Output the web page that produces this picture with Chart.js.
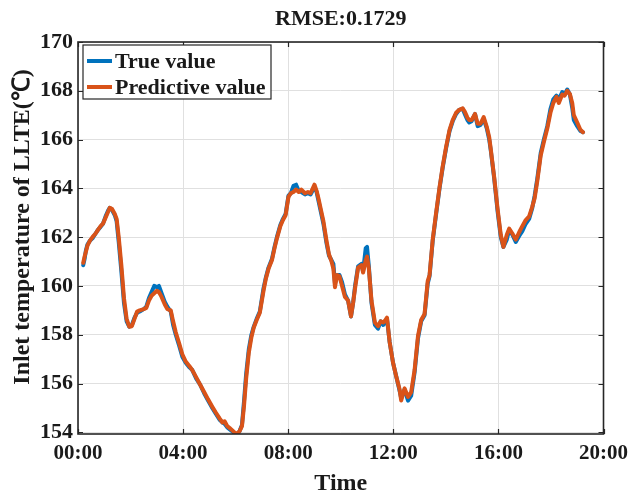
<!DOCTYPE html>
<html>
<head>
<meta charset="utf-8">
<script src="https://cdn.jsdelivr.net/npm/chart.js@4/dist/chart.umd.min.js"></script>
<style>
  html, body { margin: 0; padding: 0; background: #ffffff; }
  #wrap { width: 635px; height: 494px; }
</style>
</head>
<body>
<div id="wrap"><canvas id="c" width="635" height="494"></canvas></div>
<script>
// Time of day in hours
const hours = [
  0.20,0.25,0.30,0.36,0.45,0.55,0.67,0.76,0.86,0.95,
  1.05,1.15,1.21,1.30,1.40,1.47,1.55,1.65,1.75,1.85,
  1.95,2.05,2.15,2.25,2.35,2.50,2.60,2.70,2.80,2.90,
  3.00,3.08,3.18,3.30,3.40,3.53,3.62,3.72,3.85,3.97,
  4.10,4.25,4.35,4.50,4.65,4.80,4.95,5.11,5.25,5.40,
  5.50,5.58,5.68,5.80,5.95,6.05,6.15,6.24,6.32,6.40,
  6.50,6.60,6.69,6.80,6.92,7.06,7.15,7.25,7.38,7.48,
  7.57,7.70,7.80,7.90,8.01,8.10,8.20,8.30,8.40,8.50,
  8.64,8.75,8.85,9.00,9.08,9.15,9.25,9.34,9.45,9.55,
  9.65,9.72,9.78,9.86,9.95,10.05,10.16,10.28,10.39,10.47,
  10.55,10.66,10.79,10.85,10.95,11.00,11.07,11.17,11.30,11.42,
  11.52,11.62,11.70,11.76,11.86,11.99,12.11,12.24,12.30,12.43,
  12.56,12.68,12.81,12.94,13.06,13.19,13.31,13.38,13.50,13.63,
  13.76,13.88,14.01,14.14,14.26,14.39,14.51,14.64,14.72,14.82,
  14.89,14.98,15.11,15.21,15.32,15.44,15.56,15.65,15.71,15.84,
  15.97,16.09,16.19,16.32,16.41,16.53,16.66,16.79,16.91,17.04,
  17.17,17.29,17.38,17.48,17.61,17.73,17.86,17.98,18.09,18.21,
  18.30,18.43,18.52,18.62,18.72,18.81,18.87,19.00,19.12,19.22
];

// Measured inlet temperature (°C)
const trueValue = [
  160.85,161.10,161.45,161.70,161.85,161.95,162.15,162.30,162.42,162.55,
  162.85,163.10,163.20,163.10,162.90,162.65,161.80,160.60,159.30,158.55,
  158.33,158.40,158.70,158.90,158.95,159.05,159.15,159.50,159.75,160.00,
  159.95,160.00,159.70,159.35,159.15,158.95,158.40,158.00,157.55,157.10,
  156.85,156.65,156.55,156.20,155.95,155.60,155.30,155.00,154.75,154.50,
  154.40,154.35,154.20,154.10,153.98,153.90,154.05,154.30,155.30,156.40,
  157.40,158.00,158.33,158.65,158.95,159.90,160.35,160.75,161.10,161.60,
  162.00,162.50,162.75,162.95,163.70,163.80,164.10,164.15,163.90,163.85,
  163.75,163.80,163.75,164.05,163.85,163.50,163.00,162.55,161.80,161.25,
  161.05,160.90,160.10,160.45,160.45,160.15,159.65,159.40,158.75,159.30,
  160.05,160.80,160.90,160.60,161.55,161.60,160.80,159.30,158.40,158.25,
  158.55,158.40,158.55,158.65,157.70,156.85,156.30,155.70,155.40,155.75,
  155.30,155.50,156.45,157.85,158.55,158.80,160.10,160.40,161.85,162.95,
  164.00,164.85,165.65,166.35,166.75,167.05,167.22,167.26,167.05,166.80,
  166.70,166.75,167.05,166.55,166.60,166.85,166.45,166.00,165.55,164.40,
  163.05,162.00,161.60,161.90,162.30,162.10,161.80,162.05,162.25,162.55,
  162.75,163.20,163.70,164.40,165.45,166.00,166.55,167.25,167.65,167.80,
  167.65,167.95,167.85,168.05,167.85,167.30,166.80,166.55,166.35,166.30
];

// Model prediction (°C)
const predictiveValue = [
  160.95,161.20,161.40,161.65,161.85,162.00,162.15,162.30,162.45,162.55,
  162.80,163.05,163.20,163.15,162.95,162.75,162.00,160.85,159.50,158.65,
  158.33,158.35,158.65,158.95,159.00,159.05,159.10,159.40,159.60,159.70,
  159.80,159.75,159.55,159.25,159.05,159.00,158.55,158.10,157.65,157.20,
  156.90,156.70,156.55,156.25,155.95,155.65,155.35,155.05,154.80,154.55,
  154.40,154.45,154.25,154.15,154.00,153.92,154.05,154.25,155.10,156.20,
  157.25,157.90,158.30,158.60,158.90,159.80,160.30,160.70,161.05,161.55,
  161.95,162.45,162.70,162.90,163.65,163.80,163.85,163.95,163.85,163.95,
  163.80,163.85,163.80,164.15,163.90,163.60,163.10,162.65,161.90,161.30,
  161.00,160.70,159.95,160.45,160.40,160.00,159.55,159.40,158.75,159.30,
  159.95,160.75,160.85,160.55,161.05,161.20,160.70,159.40,158.50,158.35,
  158.55,158.50,158.60,158.70,157.70,156.85,156.30,155.75,155.30,155.80,
  155.45,155.65,156.55,157.95,158.60,158.85,160.20,160.45,161.90,163.00,
  164.05,164.90,165.70,166.40,166.80,167.10,167.22,167.28,167.15,166.90,
  166.80,166.80,167.05,166.65,166.65,166.92,166.51,166.10,165.60,164.46,
  163.15,162.10,161.60,162.10,162.35,162.15,161.90,162.20,162.45,162.70,
  162.85,163.25,163.60,164.30,165.35,165.90,166.45,167.10,167.50,167.75,
  167.50,167.85,167.80,168.00,167.87,167.50,167.00,166.70,166.40,166.30
];

const yTicks = [154, 156, 158, 160, 162, 164, 166, 168, 170];
const xTicks = [0, 4, 8, 12, 16, 20];
const xTickLabels = ['00:00', '04:00', '08:00', '12:00', '16:00', '20:00'];

const chartTitle = 'RMSE:0.1729';
const xTitle = 'Time';
const yTitle = 'Inlet temperature of LLTE(\u2103)';
const seriesNames = ['True value', 'Predictive value'];
const seriesColors = ['#0072BD', '#D95319'];

const SERIF = "'Liberation Serif', 'Times New Roman', serif";
const INK = '#1a1a1a';
const AXIS = '#262626';

const toPoints = vals => hours.map((h, i) => ({ x: h, y: vals[i] }));

// Box frame, inward ticks, titles and legend
const decorations = {
  id: 'decorations',
  afterDraw(chart) {
    const { ctx, chartArea: a, scales: { x, y } } = chart;
    ctx.save();

    // inward tick marks on all four sides
    ctx.strokeStyle = AXIS;
    ctx.lineWidth = 1.2;
    const tl = 5;
    ctx.beginPath();
    xTicks.forEach(v => {
      const px = Math.round(x.getPixelForValue(v)) + 0.5;
      ctx.moveTo(px, a.bottom); ctx.lineTo(px, a.bottom - tl);
      ctx.moveTo(px, a.top); ctx.lineTo(px, a.top + tl);
    });
    yTicks.forEach(v => {
      const py = Math.round(y.getPixelForValue(v)) + 0.5;
      ctx.moveTo(a.left, py); ctx.lineTo(a.left + tl, py);
      ctx.moveTo(a.right, py); ctx.lineTo(a.right - tl, py);
    });
    ctx.stroke();

    // axes box
    ctx.lineWidth = 1.6;
    ctx.strokeRect(a.left, a.top, a.right - a.left, a.bottom - a.top);

    // chart title
    ctx.fillStyle = INK;
    ctx.textAlign = 'center';
    ctx.textBaseline = 'middle';
    ctx.font = 'bold 22px ' + SERIF;
    ctx.fillText(chartTitle, (a.left + a.right) / 2, 19);

    // x axis title
    ctx.font = 'bold 24px ' + SERIF;
    ctx.fillText(xTitle, (a.left + a.right) / 2, 484);

    // y axis title
    ctx.save();
    ctx.translate(23, 227);
    ctx.rotate(-Math.PI / 2);
    ctx.fillText(yTitle, 0, 0);
    ctx.restore();

    // legend
    const bx = a.left + 5, by = a.top + 3, bw = 188, bh = 54;
    ctx.fillStyle = '#ffffff';
    ctx.fillRect(bx, by, bw, bh);
    ctx.strokeStyle = AXIS;
    ctx.lineWidth = 1.2;
    ctx.strokeRect(bx, by, bw, bh);
    ctx.font = 'bold 22px ' + SERIF;
    ctx.textAlign = 'left';
    seriesNames.forEach((name, i) => {
      const ry = by + 16 + i * 26;
      ctx.strokeStyle = seriesColors[i];
      ctx.lineWidth = 4;
      ctx.beginPath();
      ctx.moveTo(bx + 4, ry); ctx.lineTo(bx + 29, ry);
      ctx.stroke();
      ctx.fillStyle = INK;
      ctx.fillText(name, bx + 32, ry + 1);
    });

    ctx.restore();
  }
};

new Chart(document.getElementById('c'), {
  type: 'line',
  data: {
    datasets: [
      {
        label: seriesNames[0],
        data: toPoints(trueValue),
        borderColor: seriesColors[0],
        borderWidth: 4,
        order: 2
      },
      {
        label: seriesNames[1],
        data: toPoints(predictiveValue),
        borderColor: seriesColors[1],
        borderWidth: 4,
        order: 1
      }
    ]
  },
  options: {
    responsive: false,
    animation: false,
    devicePixelRatio: 1,
    layout: { padding: { top: 42, right: 29, left: 0, bottom: 0 } },
    elements: {
      point: { radius: 0 },
      line: { tension: 0, borderJoinStyle: 'round', borderCapStyle: 'round' }
    },
    plugins: {
      legend: { display: false },
      title: { display: false },
      tooltip: { enabled: false }
    },
    scales: {
      x: {
        type: 'linear',
        min: 0,
        max: 20,
        afterBuildTicks: s => { s.ticks = xTicks.map(v => ({ value: v })); },
        afterFit: s => { s.height = 60; },
        grid: { color: '#e0e0e0', lineWidth: 1, drawTicks: false },
        border: { display: false },
        ticks: {
          padding: 7,
          maxRotation: 0,
          color: INK,
          font: { family: SERIF, weight: 'bold', size: 21 },
          callback: (v, i) => xTickLabels[i]
        }
      },
      y: {
        type: 'linear',
        min: 153.93,
        max: 170,
        afterBuildTicks: s => { s.ticks = yTicks.map(v => ({ value: v })); },
        afterFit: s => { s.width = 78; },
        grid: { color: '#e0e0e0', lineWidth: 1, drawTicks: false },
        border: { display: false },
        ticks: {
          padding: 5,
          color: INK,
          font: { family: SERIF, weight: 'bold', size: 22 },
          callback: v => String(v)
        }
      }
    }
  },
  plugins: [decorations]
});
</script>
</body>
</html>
